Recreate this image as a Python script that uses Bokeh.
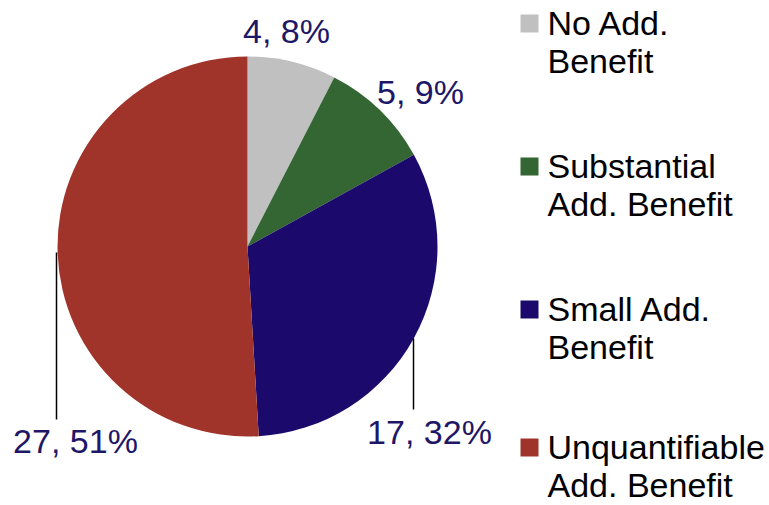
import math
from bokeh.plotting import figure
from bokeh.models import Range1d, ColumnDataSource
from bokeh.core.properties import value
from bokeh.embed import file_html
from bokeh.resources import INLINE

# ---- data ----
categories = ["No Add. Benefit", "Substantial Add. Benefit", "Small Add. Benefit", "Unquantifiable Add. Benefit"]
legend_lines = [["No Add.", "Benefit"], ["Substantial", "Add. Benefit"], ["Small Add.", "Benefit"], ["Unquantifiable", "Add. Benefit"]]
counts = [4, 5, 17, 27]
colors = ["#C0C0C0", "#336633", "#1B0A6B", "#A0342A"]

W, H = 769, 505
FONT = "Liberation Sans"
LABEL_COLOR = "#1E1666"
FS = "34px"
SHIFT = 12  # baseline correction

def Y(s):
    return H - s

p = figure(width=W, height=H, x_range=Range1d(0, W), y_range=Range1d(0, H),
           output_backend="svg", toolbar_location=None, min_border=0)
p.axis.visible = False
p.grid.visible = False
p.outline_line_color = None
p.background_fill_color = "white"

# ---- pie ----
total = sum(counts)
cx, cy, r = 247, Y(246), 190
starts, ends = [], []
acc = 0
for c in counts:
    starts.append(math.pi / 2 - 2 * math.pi * acc / total)
    acc += c
    ends.append(math.pi / 2 - 2 * math.pi * acc / total)
src = ColumnDataSource(dict(start=starts, end=ends, color=colors))
p.wedge(x=cx, y=cy, radius=r, start_angle="start", end_angle="end", direction="clock",
        fill_color="color", line_color=None, source=src)

# ---- leader lines ----
p.line(x=[56, 56], y=[Y(252), Y(419)], line_color="black", line_width=1.5)
p.line(x=[413, 413], y=[Y(338), Y(409)], line_color="black", line_width=1.5)

# ---- data labels ----
labels = [f"{c}, {round(c / total * 100)}%" for c in counts]
label_pos = [(286, 42), (420, 103), (429, 443), (75, 452)]
p.text(x=[lp[0] for lp in label_pos], y=[Y(lp[1] - SHIFT) for lp in label_pos], text=labels,
       text_font=value(FONT), text_font_size=FS, text_color=LABEL_COLOR,
       text_align="center", text_baseline="alphabetic")

# ---- legend ----
sq_y = [23, 166, 309, 447]
p.rect(x=[529] * 4, y=[Y(v) for v in sq_y], width=18, height=18, fill_color=colors, line_color=None)
tx, ty, tt = [], [], []
for i, lines in enumerate(legend_lines):
    for j, ln in enumerate(lines):
        tx.append(547)
        ty.append(Y(sq_y[i] + 11 + 38 * j - SHIFT))
        tt.append(ln)
p.text(x=tx, y=ty, text=tt, text_font=value(FONT), text_font_size=FS, text_color="black",
       text_align="left", text_baseline="alphabetic")

open("out.html", "w").write(file_html(p, INLINE))
